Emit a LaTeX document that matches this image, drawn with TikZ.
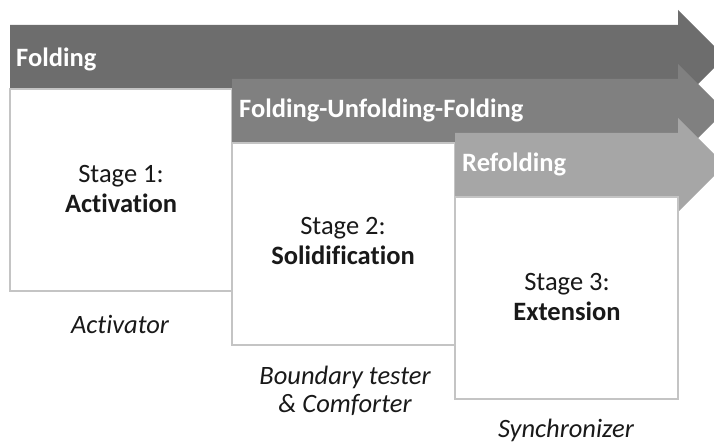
\documentclass[tikz,border=0pt]{standalone}
\usepackage{fontspec}
\setmainfont[Ligatures=NoCommon]{Carlito}
\begin{document}
\begin{tikzpicture}[x=1pt,y=-1pt,
  stagebox/.style={draw=boxline,line width=1.4pt,fill=white},
  bandlabel/.style={anchor=base west,text=white,font=\fontsize{26.5}{30}\selectfont\bfseries,inner sep=0pt},
  stagetext/.style={anchor=base,align=center,text=black!90,font=\fontsize{26.5}{30}\selectfont,inner sep=0pt},
  roletext/.style={anchor=base,align=center,text=black!90,font=\fontsize{26.5}{28}\selectfont\itshape,inner sep=0pt}]
\definecolor{bandA}{HTML}{6D6D6D}
\definecolor{bandB}{HTML}{808080}
\definecolor{bandC}{HTML}{A6A6A6}
\definecolor{boxline}{HTML}{C4C4C4}
\useasboundingbox (0,0) rectangle (714,443);
\clip (0,0) rectangle (714,443);
% phase arrows with their stage boxes, layered from back to front
\fill[bandA] (10,25) -- (678,25) -- (678,10) -- (725,57) -- (678,104) -- (678,89) -- (10,89) -- cycle;
\draw[stagebox] (10,89) rectangle (232,291);
\fill[bandB] (232,79) -- (678,79) -- (678,64) -- (725,111) -- (678,158) -- (678,143) -- (232,143) -- cycle;
\draw[stagebox] (232,143) rectangle (455,345);
\fill[bandC] (455,133) -- (678,133) -- (678,118) -- (725,165) -- (678,212) -- (678,197) -- (455,197) -- cycle;
\draw[stagebox] (455,197) rectangle (678,399);
% phase names
\node[bandlabel] (fold) at (16,67) {Folding};
\node[bandlabel] (fuf) at (239,118) {Folding-Unfolding-Folding};
\node[bandlabel] (refold) at (462,172) {Refolding};
% stage titles (anchored on the baseline of their last line)
\node[stagetext] (s1) at (121,213) {Stage 1:\\\textbf{Activation}};
\node[stagetext] (s2) at (343,265) {Stage 2:\\\textbf{Solidification}};
\node[stagetext] (s3) at (567,320) {Stage 3:\\\textbf{Extension}};
% roles
\node[roletext] (r1) at (120,333) {Activator};
\node[roletext] (r2) at (345,412) {Boundary tester\\\& Comforter};
\node[roletext] (r3) at (566,437) {Synchronizer};
\end{tikzpicture}
\end{document}
